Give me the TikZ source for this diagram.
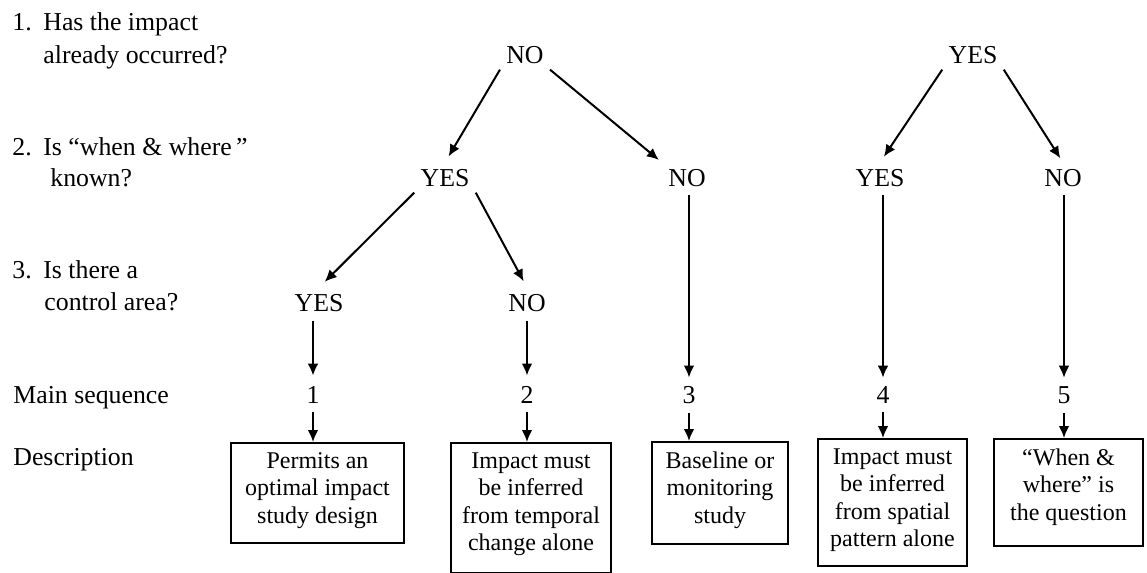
\documentclass[tikz,border=0pt]{standalone}
\usepackage{fontspec}
\setmainfont{Liberation Serif}
\usetikzlibrary{arrows.meta}
\newcommand{\boxtext}[3]{\parbox[c][#2][t]{#1}{\centering\fontsize{12}{13.75}\selectfont\vspace*{4.8pt}#3}}
\begin{document}
\begin{tikzpicture}[x=0.5pt,y=-0.5pt,
  every node/.style={font=\fontsize{12.9}{14}\selectfont},
  lbl/.style={anchor=base west, inner sep=0pt},
  ans/.style={anchor=base, inner sep=3pt},
  arr/.style={line width=1pt, -{Latex[length=6pt,width=5.4pt]}},
  dbox/.style={draw, line width=1pt, inner sep=0pt, anchor=north},
]
\useasboundingbox (0,0) rectangle (1147,573);

% left-hand questions
\node[lbl] (q1a) at (12,31) {1.};
\node[lbl] (q1b) at (43,31) {Has the impact};
\node[lbl] (q1c) at (43,63) {already occurred?};
\node[lbl] (q2a) at (12,155) {2.};
\node[lbl] (q2b) at (43,155) {Is “when \& where\,”};
\node[lbl] (q2c) at (50,186) {known?};
\node[lbl] (q3a) at (12,278) {3.};
\node[lbl] (q3b) at (43,278) {Is there a};
\node[lbl] (q3c) at (44,310) {control area?};
\node[lbl] (ms) at (13,403) {Main sequence};
\node[lbl] (ds) at (13,465) {Description};

% tree answers
\node[ans] (a) at (525,63) {NO};
\node[ans] (b) at (973,63) {YES};
\node[ans] (ay) at (445,186) {YES};
\node[ans] (an) at (687,186) {NO};
\node[ans] (by) at (880,186) {YES};
\node[ans] (bn) at (1063,186) {NO};
\node[ans] (ayy) at (319,311) {YES};
\node[ans] (ayn) at (527,311) {NO};

% main sequence numbers
\node[ans] (s1) at (313,403) {1};
\node[ans] (s2) at (527,403) {2};
\node[ans] (s3) at (689,403) {3};
\node[ans] (s4) at (883,403) {4};
\node[ans] (s5) at (1064,403) {5};

% description boxes
\node[dbox] (d1) at (317.5,442) {\boxtext{86.5pt}{50pt}{Permits an\\optimal impact\\study design}};
\node[dbox] (d2) at (531,442) {\boxtext{80pt}{65pt}{Impact must\\be inferred\\from temporal\\change alone}};
\node[dbox] (d3) at (720,441) {\boxtext{68pt}{51pt}{Baseline or\\monitoring\\study}};
\node[dbox] (d4) at (892.5,438) {\boxtext{74.5pt}{63.5pt}{Impact must\\be inferred\\from spatial\\pattern alone}};
\node[dbox] (d5) at (1068.5,438) {\boxtext{74.5pt}{53.5pt}{“When \&\\where” is\\the question}};

% diagonal arrows
\draw[arr, shorten >=3.5pt] (a.south west) -- (ay.north);
\draw[arr, shorten >=2pt] (a.south east) -- (an.north west);
\draw[arr, shorten >=3.5pt] (b.south west) -- (by.north);
\draw[arr, shorten >=2.5pt] (b.south east) -- (bn.north);
\draw[arr, shorten >=4pt] (ay.south west) -- (ayy.north);
\draw[arr, shorten >=3.5pt] (ay.south east) -- (ayn.north);

% vertical arrows to numbers
\draw[arr, shorten <=1.5pt, shorten >=2pt] (s1 |- ayy.south) -- (s1.north);
\draw[arr, shorten <=1.5pt, shorten >=2pt] (s2 |- ayn.south) -- (s2.north);
\draw[arr, shorten <=1pt, shorten >=1pt] (s3 |- an.south) -- (s3.north);
\draw[arr, shorten <=1pt, shorten >=1pt] (s4 |- by.south) -- (s4.north);
\draw[arr, shorten <=1pt, shorten >=1pt] (s5 |- bn.south) -- (s5.north);

% arrows from numbers to boxes
\draw[arr, shorten <=1.5pt] (s1.south) -- (s1 |- d1.north);
\draw[arr, shorten <=1.5pt] (s2.south) -- (s2 |- d2.north);
\draw[arr, shorten <=1.5pt] (s3.south) -- (s3 |- d3.north);
\draw[arr, shorten <=1.5pt] (s4.south) -- (s4 |- d4.north);
\draw[arr, shorten <=1.5pt] (s5.south) -- (s5 |- d5.north);
\end{tikzpicture}
\end{document}
